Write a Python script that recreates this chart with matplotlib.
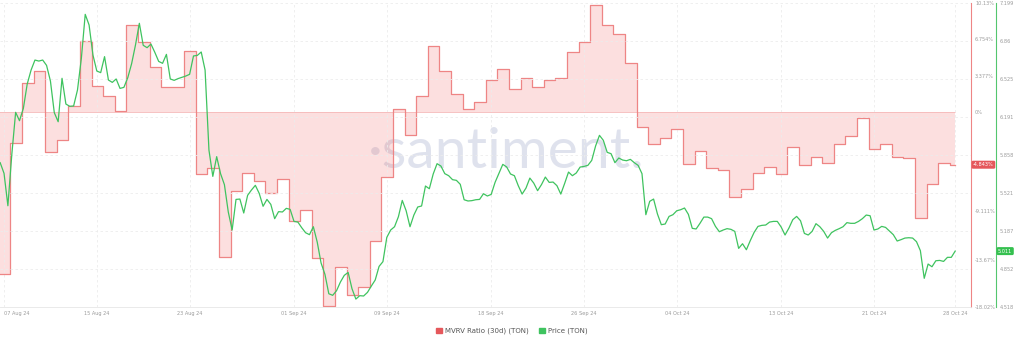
import matplotlib
matplotlib.use("Agg")
import matplotlib.pyplot as plt
from matplotlib.patches import Patch
import numpy as np
import pandas as pd

# MVRV ratio (30d), one value per day, in percent
mvrv_start = "2024-08-06 13:00"
mvrv = [
    -15.00, -2.87, 2.69, 3.80, -3.70, -2.59, 0.56, 6.57, 2.41, 1.48,
    0.09, 8.06, 6.48, 4.17, 2.31, 2.31, 5.65, -5.74, -5.19, -13.43,
    -7.31, -5.65, -6.39, -7.50, -6.20, -10.09, -9.07, -13.52, -17.96, -14.35,
    -16.94, -16.20, -11.94, -6.02, 0.28, -2.13, 1.48, 6.11, 3.80, 1.67,
    0.28, 0.93, 2.96, 3.98, 2.13, 3.15, 2.31, 2.96, 3.15, 5.56,
    6.48, 9.91, 8.06, 7.22, 4.54, -1.39, -2.96, -2.41, -1.57, -4.81,
    -3.61, -5.19, -5.37, -7.87, -7.13, -5.65, -5.09, -5.74, -3.24, -4.91,
    -4.17, -4.72, -2.96, -2.22, -0.56, -3.43, -2.96, -4.17, -4.26, -9.81,
    -6.67, -4.72, -4.843,
]

# TON price in USD, one reading every 8 hours
price_start = "2024-08-06 16:00"
price = [
    5.791, 5.697, 5.411, 5.858, 6.235, 6.161, 6.270, 6.485, 6.608, 6.696,
    6.687, 6.696, 6.649, 6.511, 6.232, 6.152, 6.535, 6.308, 6.288, 6.291,
    6.432, 6.711, 7.099, 7.005, 6.740, 6.599, 6.585, 6.726, 6.520, 6.499,
    6.529, 6.446, 6.455, 6.540, 6.664, 6.829, 7.020, 6.826, 6.805, 6.837,
    6.764, 6.684, 6.667, 6.746, 6.529, 6.517, 6.532, 6.543, 6.555, 6.570,
    6.732, 6.737, 6.767, 6.608, 5.902, 5.670, 5.844, 5.694, 5.597, 5.356,
    5.197, 5.467, 5.470, 5.347, 5.503, 5.550, 5.591, 5.520, 5.406, 5.467,
    5.423, 5.297, 5.359, 5.356, 5.388, 5.379, 5.273, 5.267, 5.217, 5.173,
    5.156, 5.226, 5.091, 4.906, 4.806, 4.635, 4.621, 4.662, 4.738, 4.797,
    4.823, 4.679, 4.588, 4.618, 4.615, 4.647, 4.703, 4.756, 4.876, 4.918,
    5.132, 5.197, 5.226, 5.314, 5.458, 5.367, 5.226, 5.329, 5.400, 5.409,
    5.585, 5.561, 5.691, 5.782, 5.761, 5.694, 5.676, 5.641, 5.635, 5.600,
    5.464, 5.453, 5.456, 5.464, 5.467, 5.517, 5.497, 5.511, 5.617, 5.697,
    5.776, 5.753, 5.691, 5.676, 5.588, 5.514, 5.567, 5.655, 5.611, 5.544,
    5.597, 5.664, 5.617, 5.620, 5.588, 5.514, 5.608, 5.708, 5.676,
    5.700, 5.752, 5.758, 5.767, 5.811, 5.938, 6.032, 5.988, 5.882, 5.870,
    5.791, 5.832, 5.814, 5.808, 5.820, 5.791, 5.767, 5.694, 5.332, 5.450,
    5.470, 5.338, 5.244, 5.250, 5.317, 5.332, 5.367, 5.376, 5.391, 5.335,
    5.212, 5.206, 5.256, 5.311, 5.311, 5.297, 5.229, 5.182, 5.197, 5.209,
    5.203, 5.185, 5.035, 5.076, 5.023, 5.103, 5.176, 5.229, 5.238, 5.241,
    5.267, 5.273, 5.273, 5.223, 5.153, 5.214, 5.288, 5.317, 5.279, 5.167,
    5.153, 5.185, 5.253, 5.226, 5.185, 5.126, 5.173, 5.194, 5.209, 5.226,
    5.262, 5.256, 5.256, 5.273, 5.297, 5.329, 5.323, 5.197, 5.206, 5.229,
    5.220, 5.188, 5.156, 5.100, 5.112, 5.126, 5.129, 5.126, 5.094, 5.015,
    4.771, 4.897, 4.873, 4.926, 4.929, 4.920, 4.956, 4.956, 5.011,
]

tick_dates = ["2024-08-07", "2024-08-15", "2024-08-23", "2024-09-01",
              "2024-09-09", "2024-09-18", "2024-09-26", "2024-10-04",
              "2024-10-13", "2024-10-21", "2024-10-28"]
mvrv_ticks = [10.13, 6.754, 3.377, 0, -9.111, -13.67, -18.02]
mvrv_tick_labels = ["10.13%", "6.754%", "3.377%", "0%", "-9.111%", "-13.67%", "-18.02%"]
price_ticks = [7.199, 6.86, 6.525, 6.191, 5.858, 5.521, 5.187, 4.852, 4.518]
price_tick_labels = ["7.199", "6.86", "6.525", "6.191", "5.858", "5.521", "5.187", "4.852", "4.518"]

RED = "#ee8585"
RED_TAG = "#e5575b"
GREEN = "#3fc35f"
GRID = "#ececec"
TICK = "#9b9b9b"

mvrv_t = pd.date_range(mvrv_start, periods=len(mvrv), freq="D")
price_t = pd.date_range(price_start, periods=len(price), freq="8h")
# the last daily step runs until the end of the price series
step_t = mvrv_t.append(pd.DatetimeIndex([price_t[-1]]))
step_v = np.append(mvrv, mvrv[-1])

fig = plt.figure(figsize=(10.24, 3.46), dpi=100)
ax = fig.add_axes([0, 0.1127, 0.9482, 0.8786])
ax2 = ax.twinx()

# watermark
ax.text(0.521, 0.457, "\u00b7santiment.", transform=ax.transAxes, ha="center",
        va="baseline", fontsize=41, color="#d5d9e8", alpha=0.75,
        family=["Lato", "DejaVu Sans"], zorder=0)

ax.fill_between(step_t, step_v, 0, step="post", color="#f06060", alpha=0.2,
                lw=0, zorder=1)
ax.hlines(0, step_t[0], step_t[-1], color="#f5b8b8", lw=0.6, zorder=2)
ax.step(step_t, step_v, where="post", color=RED, lw=0.9, zorder=3)
ax2.plot(price_t, price, color=GREEN, lw=0.9)

ax.set_xlim(pd.Timestamp("2024-08-06 15:40"), pd.Timestamp("2024-10-29 08:40"))
ax.set_ylim(-18.02, 10.13)
ax2.set_ylim(4.518, 7.199)

ticks = pd.to_datetime(tick_dates)
ax.set_xticks(ticks, [d.strftime("%d %b %y") for d in ticks])
ax.get_xticklabels()[0].set_ha("left")
ax.tick_params(axis="x", length=0, pad=3, labelsize=3.6, labelcolor=TICK)

ax.yaxis.tick_right()
ax.set_yticks(mvrv_ticks, mvrv_tick_labels)
ax.tick_params(axis="y", length=0, pad=3, labelsize=3.6, labelcolor=TICK)
ax2.set_yticks(price_ticks, price_tick_labels)
ax2.tick_params(axis="y", length=0, pad=2.5, labelsize=3.6, labelcolor=TICK)

ax.grid(axis="x", color=GRID, ls=(0, (3, 3)), lw=0.6)
ax2.grid(axis="y", color=GRID, ls=(0, (3, 3)), lw=0.6)

for s in ("top", "left"):
    ax.spines[s].set_visible(False)
ax.spines["bottom"].set_color("#e6e6e6")
ax.spines["bottom"].set_linewidth(0.6)
ax.spines["right"].set_color(RED)
ax.spines["right"].set_linewidth(0.8)
for s in ("top", "left", "bottom"):
    ax2.spines[s].set_visible(False)
ax2.spines["right"].set_position(("outward", 18))
ax2.spines["right"].set_color("#54c66e")
ax2.spines["right"].set_linewidth(0.8)

# current value tags on both axes
ax.annotate(f"{mvrv[-1]:.3f}%", xy=(1, mvrv[-1]), xycoords=ax.get_yaxis_transform(),
            xytext=(1.5, 0), textcoords="offset points", ha="left", va="center",
            fontsize=3.6, color="white", annotation_clip=False,
            bbox=dict(boxstyle="round,pad=0.3", fc=RED_TAG, ec="none"))
ax2.annotate(f"{price[-1]:.3f}", xy=(1, price[-1]), xycoords=ax2.get_yaxis_transform(),
             xytext=(19.5, 0), textcoords="offset points", ha="left", va="center",
             fontsize=3.6, color="white", annotation_clip=False,
             bbox=dict(boxstyle="round,pad=0.3", fc="#35c04f", ec="none"))

fig.legend(handles=[Patch(color=RED_TAG, label="MVRV Ratio (30d) (TON)"),
                    Patch(color=GREEN, label="Price (TON)")],
           loc="center", bbox_to_anchor=(0.5, 0.043), ncol=2, frameon=False,
           fontsize=5, handlelength=0.8, handleheight=0.8, handletextpad=0.5,
           columnspacing=1.5, labelcolor="#555555")

fig.savefig("out.png", dpi=100)
